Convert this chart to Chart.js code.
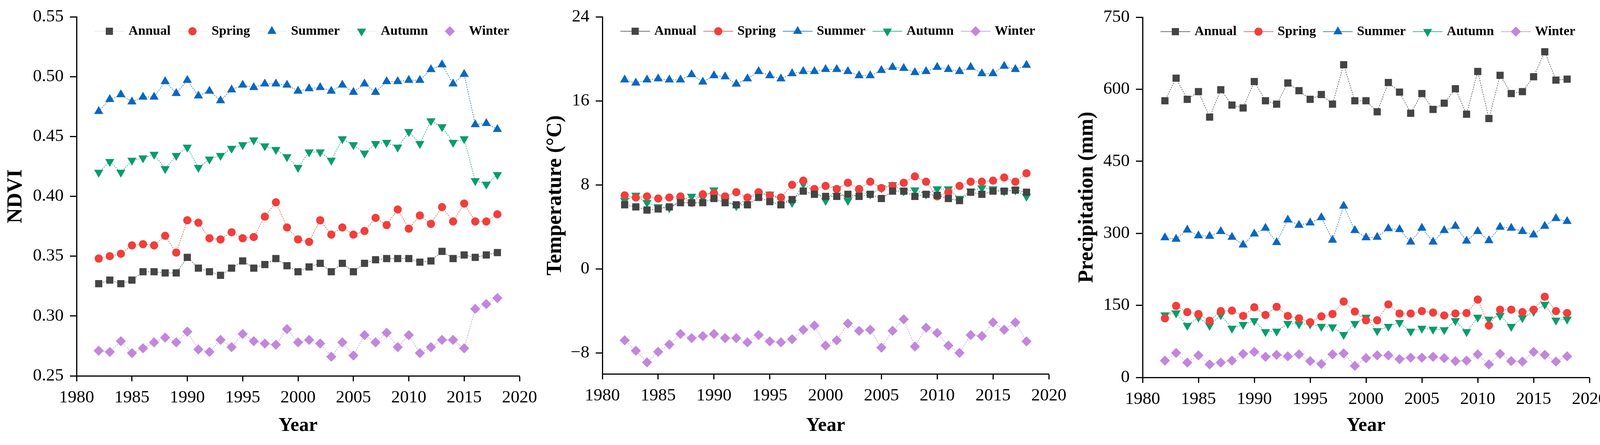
<!DOCTYPE html>
<html>
<head>
<meta charset="utf-8">
<script src="https://cdn.jsdelivr.net/npm/chart.js@4.4.1/dist/chart.umd.min.js"></script>
<style>
  html, body { margin: 0; padding: 0; background: #fff; }
  body { width: 4131px; height: 1139px; position: relative; overflow: hidden; }
  .panel { position: absolute; top: 0; height: 1139px; }
</style>
</head>
<body>
<div class="panel" style="left:0px;width:1390px"><canvas id="ndviChart"></canvas></div>
<div class="panel" style="left:1380px;width:1370px"><canvas id="tempChart"></canvas></div>
<div class="panel" style="left:2750px;width:1381px"><canvas id="precipChart"></canvas></div>
<script>
// years on the x axis
const years = [1982, 1983, 1984, 1985, 1986, 1987, 1988, 1989, 1990, 1991, 1992, 1993, 1994, 1995, 1996, 1997, 1998,
    1999, 2000, 2001, 2002, 2003, 2004, 2005, 2006, 2007, 2008, 2009, 2010, 2011, 2012, 2013, 2014, 2015, 2016, 2017, 2018];
const yearTicks = [1980, 1985, 1990, 1995, 2000, 2005, 2010, 2015, 2020];

// NDVI
const ndviAnnual = [0.327, 0.330, 0.327, 0.330, 0.337, 0.337, 0.336, 0.336, 0.349, 0.340, 0.337, 0.334, 0.340, 0.346, 0.340, 0.343, 0.348,
    0.342, 0.337, 0.341, 0.344, 0.337, 0.344, 0.337, 0.344, 0.347, 0.348, 0.348, 0.348, 0.345, 0.346, 0.354, 0.348, 0.351, 0.349, 0.351, 0.353];
const ndviSpring = [0.348, 0.350, 0.352, 0.359, 0.360, 0.359, 0.367, 0.353, 0.380, 0.378, 0.365, 0.364, 0.370, 0.365, 0.366, 0.383, 0.395,
    0.374, 0.364, 0.362, 0.380, 0.368, 0.374, 0.368, 0.371, 0.382, 0.376, 0.389, 0.373, 0.384, 0.377, 0.391, 0.379, 0.394, 0.379, 0.379, 0.385];
const ndviSummer = [0.471, 0.481, 0.485, 0.479, 0.483, 0.483, 0.496, 0.486, 0.497, 0.484, 0.488, 0.480, 0.489, 0.493, 0.491, 0.494, 0.494,
    0.493, 0.488, 0.490, 0.491, 0.488, 0.493, 0.487, 0.494, 0.487, 0.496, 0.496, 0.497, 0.497, 0.506, 0.510, 0.494, 0.502, 0.460, 0.461, 0.456];
const ndviAutumn = [0.420, 0.429, 0.420, 0.430, 0.432, 0.435, 0.423, 0.434, 0.441, 0.424, 0.431, 0.434, 0.440, 0.443, 0.447, 0.442, 0.439,
    0.433, 0.424, 0.437, 0.437, 0.430, 0.448, 0.443, 0.436, 0.444, 0.445, 0.441, 0.454, 0.444, 0.463, 0.458, 0.445, 0.448, 0.413, 0.410, 0.418];
const ndviWinter = [0.271, 0.270, 0.279, 0.269, 0.273, 0.278, 0.282, 0.278, 0.287, 0.272, 0.270, 0.280, 0.274, 0.285, 0.279, 0.277, 0.276,
    0.289, 0.278, 0.280, 0.277, 0.266, 0.278, 0.267, 0.284, 0.278, 0.286, 0.274, 0.284, 0.269, 0.274, 0.280, 0.280, 0.273, 0.306, 0.310, 0.315];
const ndviTicks = [0.25, 0.30, 0.35, 0.40, 0.45, 0.50, 0.55];

// Temperature (°C)
const tempAnnual = [6.1, 5.9, 5.6, 5.7, 5.9, 6.3, 6.3, 6.3, 6.7, 6.3, 6.1, 6.1, 6.8, 6.4, 6.1, 6.6, 7.4,
    7.1, 6.9, 6.9, 7.1, 6.9, 7.1, 6.7, 7.4, 7.4, 6.9, 7.1, 7.0, 6.7, 6.5, 7.3, 7.1, 7.4, 7.4, 7.5, 7.3];
const tempSpring = [7.0, 6.8, 6.9, 6.7, 6.8, 6.9, 6.3, 7.1, 7.2, 6.9, 7.3, 6.8, 7.3, 7.0, 6.8, 8.0, 8.4,
    7.6, 7.9, 7.6, 8.2, 7.6, 8.3, 7.7, 7.9, 8.2, 8.8, 8.3, 6.9, 7.3, 7.9, 8.3, 8.3, 8.4, 8.7, 8.3, 9.1];
const tempSummer = [18.0, 17.7, 18.0, 18.1, 18.0, 18.0, 18.5, 17.8, 18.4, 18.3, 17.6, 18.1, 18.8, 18.4, 18.1, 18.6, 18.8,
    18.8, 19.0, 19.0, 18.8, 18.4, 18.4, 18.9, 19.2, 19.1, 18.7, 18.8, 19.2, 19.0, 18.8, 19.2, 18.6, 18.6, 19.3, 19.0, 19.4];
const tempAutumn = [6.5, 7.0, 6.3, 5.9, 5.8, 6.5, 6.9, 6.8, 7.5, 6.5, 6.0, 6.7, 7.1, 7.1, 6.6, 6.3, 8.1,
    7.4, 6.5, 7.6, 6.5, 7.3, 7.1, 7.7, 8.0, 7.4, 7.5, 7.1, 7.6, 7.6, 6.7, 7.4, 7.7, 7.6, 7.4, 7.5, 6.9];
const tempWinter = [-6.8, -7.8, -8.9, -7.9, -7.2, -6.2, -6.6, -6.4, -6.2, -6.6, -6.6, -7.0, -6.3, -6.9, -7.0, -6.7, -5.8,
    -5.4, -7.3, -6.8, -5.2, -5.9, -5.8, -7.5, -5.9, -4.8, -7.4, -5.6, -6.1, -7.3, -8.0, -6.3, -6.4, -5.1, -5.8, -5.1, -6.9];
const tempTicks = [-8, 0, 8, 16, 24];

// Precipitation (mm)
const precipAnnual = [576, 623, 579, 595, 542, 599, 567, 561, 616, 576, 569, 613, 597, 579, 589, 569, 651,
    576, 576, 553, 614, 594, 550, 591, 558, 571, 601, 548, 637, 539, 629, 591, 595, 626, 678, 619, 621];
const precipSpring = [123, 149, 136, 132, 118, 138, 139, 128, 146, 130, 147, 128, 123, 115, 127, 132, 158,
    137, 119, 119, 152, 133, 133, 138, 135, 129, 133, 134, 162, 108, 141, 141, 136, 141, 168, 138, 134];
const precipSummer = [291, 288, 307, 295, 294, 304, 292, 276, 299, 311, 281, 328, 317, 322, 333, 286, 357,
    306, 291, 292, 310, 308, 282, 311, 282, 306, 315, 284, 304, 285, 313, 311, 304, 297, 315, 331, 325];
const precipAutumn = [130, 134, 108, 125, 108, 130, 102, 110, 118, 95, 96, 112, 111, 111, 106, 105, 89,
    112, 125, 97, 106, 114, 96, 102, 100, 99, 118, 95, 125, 121, 129, 106, 124, 137, 152, 119, 121];
const precipWinter = [35, 51, 31, 46, 27, 31, 35, 49, 53, 43, 47, 44, 48, 34, 28, 48, 50,
    24, 40, 46, 46, 38, 41, 41, 43, 40, 34, 35, 48, 27, 49, 34, 33, 53, 47, 33, 44];
const precipTicks = [0, 150, 300, 450, 600, 750];

const seriesLabels = ['Annual', 'Spring', 'Summer', 'Autumn', 'Winter'];

// styles
const seriesColors = ['#444444', '#f23e3a', '#0867c2', '#089c6b', '#c286dd'];
const markerStyles = ['rect', 'circle', 'triangle', 'triangle', 'rectRot'];
const markerRotation = [0, 0, 0, 180, 0];
const markerRadius = [13, 10.5, 13.5, 13.5, 13];
const SERIF = '"Liberation Serif", "Times New Roman", serif';

function drawMarker(ctx, style, r, rot, x, y) {
    ctx.beginPath();
    if (style === 'circle') {
        ctx.arc(x, y, r, 0, Math.PI * 2);
    } else if (style === 'rect') {
        const s = r * Math.SQRT1_2;
        ctx.rect(x - s, y - s, 2 * s, 2 * s);
    } else if (style === 'rectRot') {
        ctx.moveTo(x, y - r); ctx.lineTo(x + r, y); ctx.lineTo(x, y + r); ctx.lineTo(x - r, y);
    } else {
        let a = rot * Math.PI / 180;
        for (let i = 0; i < 3; i++) {
            const px = x + Math.sin(a) * r, py = y - Math.cos(a) * r;
            if (i) ctx.lineTo(px, py); else ctx.moveTo(px, py);
            a += 2 * Math.PI / 3;
        }
    }
    ctx.closePath();
    ctx.fill();
}

// legend drawn inside the plot area, one row
const insideLegend = {
    id: 'insideLegend',
    afterDatasetsDraw(chart, args, opts) {
        const ctx = chart.ctx;
        const area = chart.chartArea;
        let x = area.left + 46;
        const y = area.top + 37;
        const half = 38;
        ctx.save();
        ctx.font = 'bold 34px ' + SERIF;
        ctx.textBaseline = 'middle';
        chart.data.datasets.forEach((ds, i) => {
            ctx.strokeStyle = ds.borderColor;
            ctx.globalAlpha = opts.lineAlpha;
            ctx.lineWidth = 1.5;
            ctx.beginPath();
            ctx.moveTo(x, y);
            ctx.lineTo(x + 2 * half, y);
            ctx.stroke();
            ctx.globalAlpha = 1;
            ctx.fillStyle = ds.pointBackgroundColor;
            drawMarker(ctx, markerStyles[i], markerRadius[i], markerRotation[i], x + half, y);
            x += 2 * half + 11;
            ctx.fillStyle = '#000';
            ctx.fillText(ds.label, x, y);
            x += ctx.measureText(ds.label).width + 18;
        });
        ctx.restore();
    }
};

function makePanel(canvasId, values, cfg) {
    const datasets = values.map((vals, i) => ({
        label: seriesLabels[i],
        data: vals.map((v, k) => ({ x: years[k], y: v })),
        borderColor: seriesColors[i],
        backgroundColor: seriesColors[i],
        pointBackgroundColor: seriesColors[i],
        pointBorderWidth: 0,
        pointStyle: markerStyles[i],
        pointRotation: markerRotation[i],
        pointRadius: markerRadius[i],
        borderWidth: 1.5,
        borderDash: [3, 3],
        tension: 0,
        fill: false
    }));
    const axisFont = { family: SERIF, size: 45 };
    return new Chart(document.getElementById(canvasId), {
        type: 'line',
        data: { datasets: datasets },
        plugins: [insideLegend],
        options: {
            responsive: true,
            maintainAspectRatio: false,
            animation: false,
            layout: { padding: { left: 0, top: cfg.top, right: cfg.right, bottom: 19 } },
            scales: {
                x: {
                    type: 'linear',
                    min: 1980,
                    max: 2020,
                    afterBuildTicks: s => { s.ticks = yearTicks.map(v => ({ value: v })); },
                    afterFit: s => { s.height = 1139 - 19 - cfg.bottom; },
                    ticks: { font: axisFont, color: '#000', padding: 15, autoSkip: false, maxRotation: 0,
                        callback: v => String(v) },
                    grid: { drawOnChartArea: false, tickLength: 14, tickWidth: 3, tickColor: '#000', color: '#000' },
                    border: { color: '#000', width: 3 },
                    title: { display: true, text: 'Year', color: '#000',
                        font: { family: SERIF, size: 50, weight: 'bold' }, padding: 0 }
                },
                y: {
                    min: cfg.min,
                    max: cfg.max,
                    afterBuildTicks: s => { s.ticks = cfg.ticks.map(v => ({ value: v })); },
                    afterFit: s => { s.width = cfg.axisWidth; },
                    ticks: { font: axisFont, color: '#000', padding: 16, autoSkip: false,
                        callback: cfg.fmt },
                    grid: { drawOnChartArea: false, tickLength: 17, tickWidth: 3, tickColor: '#000', color: '#000' },
                    border: { color: '#000', width: 3 },
                    title: { display: true, text: cfg.title, color: '#000',
                        font: { family: SERIF, size: 54, weight: 'bold' }, padding: { top: cfg.titlePad, bottom: 0 } }
                }
            },
            plugins: {
                legend: { display: false },
                tooltip: { enabled: false },
                insideLegend: { lineAlpha: cfg.legendAlpha }
            }
        }
    });
}

makePanel('ndviChart', [ndviAnnual, ndviSpring, ndviSummer, ndviAutumn, ndviWinter], {
    title: 'NDVI', min: 0.25, max: 0.55, ticks: ndviTicks, fmt: v => v.toFixed(2),
    top: 41, bottom: 962, right: 51, axisWidth: 196, titlePad: 9, legendAlpha: 0.15
});

makePanel('tempChart', [tempAnnual, tempSpring, tempSummer, tempAutumn, tempWinter], {
    title: 'Temperature (\u00B0C)', min: -10, max: 24, ticks: tempTicks, fmt: v => String(v).replace('-', '\u2212'),
    top: 34, bottom: 957, right: 65, axisWidth: 162, titlePad: 10, legendAlpha: 1
});

makePanel('precipChart', [precipAnnual, precipSpring, precipSummer, precipAutumn, precipWinter], {
    title: 'Precipitation (mm)', min: 0, max: 750, ticks: precipTicks, fmt: v => String(v),
    top: 44, bottom: 966, right: 62, axisWidth: 175, titlePad: 1, legendAlpha: 1
});
</script>
</body>
</html>
